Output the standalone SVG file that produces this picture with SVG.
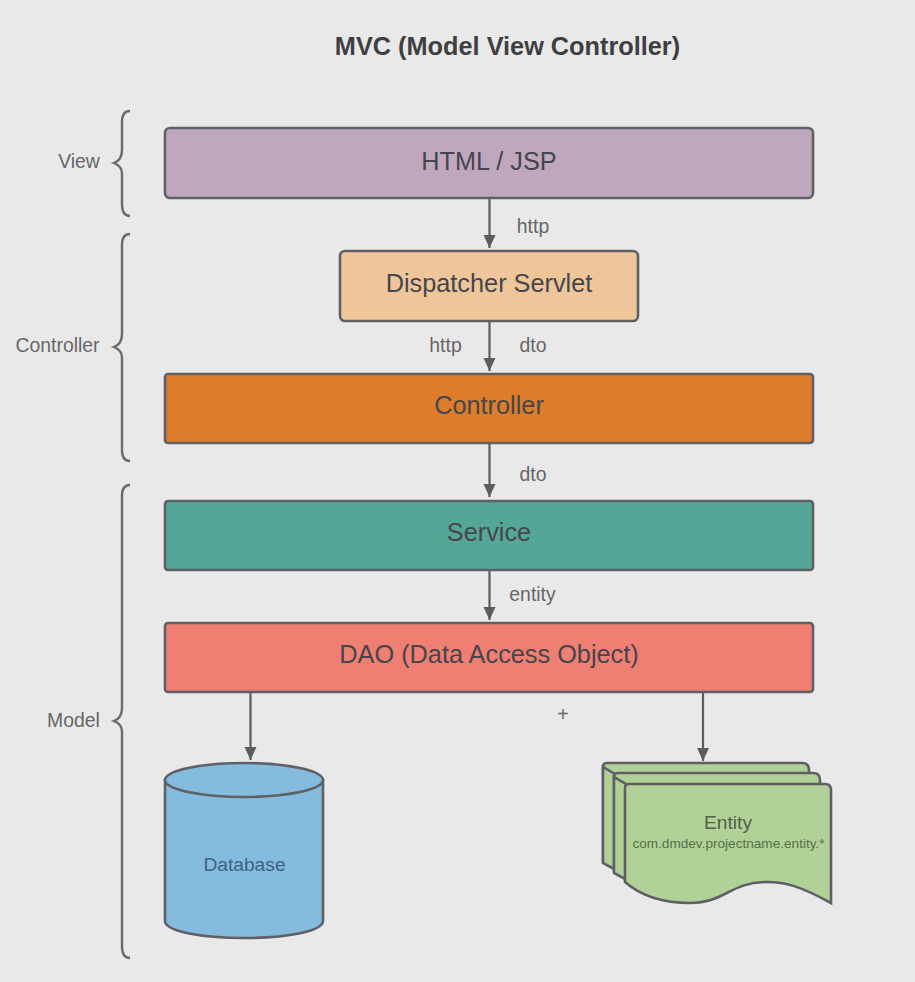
<svg xmlns="http://www.w3.org/2000/svg" width="915" height="982" viewBox="0 0 915 982">
<style>
text{font-family:"Liberation Sans",Arial,sans-serif;text-anchor:middle}
.box{stroke:#5f5f66;stroke-width:2.6}
.lab{font-size:19.400px;fill:#66666a}
.brace{fill:none;stroke:#6a6a6e;stroke-width:2.4}
.big{font-size:25.300px;fill:#45454c}
.conn{stroke:#5c5c60;stroke-width:2.200;fill:none;marker-end:url(#arr)}
</style>
<defs><marker id="arr" markerUnits="userSpaceOnUse" markerWidth="14" markerHeight="14" refX="13" refY="6" orient="auto"><path d="M0 0L13 6L0 12Z" fill="#5c5c60"/></marker></defs>
<rect width="915" height="982" fill="#e9e9e9"/>
<text id="title" x="507.500" y="55" font-size="25.300" font-weight="700" fill="#3f3f42">MVC (Model View Controller)</text>
<g id="connectors">
<path class="conn" d="M489.500 199V248"/>
<path class="conn" d="M489.500 321V371"/>
<path class="conn" d="M489.500 444V497"/>
<path class="conn" d="M489.500 571V620"/>
<path class="conn" d="M250.500 693V760"/>
<path class="conn" d="M703 693V761"/>
</g>
<g id="edge-labels" class="lab">
<text x="533" y="233">http</text>
<text x="445.500" y="352">http</text>
<text x="533" y="352">dto</text>
<text x="533" y="481">dto</text>
<text x="532.500" y="601">entity</text>
<text x="563" y="721">+</text>
</g>
<g id="brace-view"><path class="brace" d="M130 111Q122 111 122 122V150Q122 160 114 163Q122 166 122 174V204Q122 216 130 216"/><text class="lab" x="79" y="168">View</text></g>
<g id="brace-controller"><path class="brace" d="M130 234Q122 234 122 245V334Q122 344 114 347Q122 350 122 358V450Q122 461 130 461"/><text class="lab" x="57.500" y="352">Controller</text></g>
<g id="brace-model"><path class="brace" d="M130 485Q122 485 122 496V708Q122 718 114 721Q122 724 122 732V946Q122 958 130 958"/><text class="lab" x="73.500" y="727">Model</text></g>
<g id="html-jsp"><rect class="box" x="165" y="128" width="648" height="70" rx="5" fill="#bfa8be"/><text class="big" x="489" y="170">HTML / JSP</text></g>
<g id="dispatcher"><rect class="box" x="340" y="251" width="298" height="70" rx="5" fill="#eec69a"/><text class="big" x="489" y="292">Dispatcher Servlet</text></g>
<g id="controller"><rect class="box" x="165" y="374" width="648" height="69" rx="3" fill="#dd7d2b"/><text class="big" x="489" y="414">Controller</text></g>
<g id="service"><rect class="box" x="165" y="501" width="648" height="69" rx="3" fill="#54a797"/><text class="big" x="489" y="541">Service</text></g>
<g id="dao"><rect class="box" x="165" y="623" width="648" height="69" rx="3" fill="#ef7f73"/><text class="big" x="489" y="663">DAO (Data Access Object)</text></g>
<g id="database">
<path class="box" d="M165 780V921C165 931 200 938 244 938C288 938 323 931 323 921V780Z" fill="#86bbe0"/>
<ellipse class="box" cx="244" cy="780" rx="79" ry="17" fill="#86bbe0"/>
<text x="244.500" y="871" font-size="19.200" fill="#41627f">Database</text>
</g>
<g id="entity">
<path class="box" d="M603 767Q603 763 607 763H802Q809 763 809 770V860H603Z" fill="#b2d198"/>
<path class="box" d="M603 767V863L625 875V780Z" fill="#b2d198"/>
<path class="box" d="M614 777Q614 773 618 773H813Q820 773 820 780V870H614Z" fill="#b2d198"/>
<path class="box" d="M614 777V873L636 885V790Z" fill="#b2d198"/>
<path class="box" d="M625 788Q625 784 629 784H825Q831 784 831 790V903C800 886 785 882 767 882C730 882 725 903 690 903C660 903 640 895 625 882Z" fill="#b2d198"/>
<text x="728" y="829" font-size="19.200" fill="#4f6247">Entity</text>
<text x="728.500" y="848" font-size="13.600" fill="#55704a">com.dmdev.projectname.entity.*</text>
</g>
</svg>
